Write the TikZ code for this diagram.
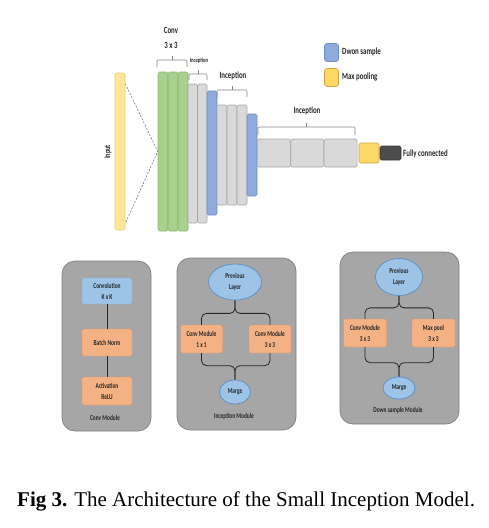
\documentclass[tikz,border=0pt]{standalone}
\usepackage{fontspec}
\usetikzlibrary{shapes.geometric,calc}
\newfontfamily\cf[FakeStretch=0.72]{Carlito}
\newfontfamily\capfont{Liberation Serif}
\definecolor{grn}{HTML}{A9D18E}\definecolor{grnd}{HTML}{8DB673}
\definecolor{gry}{HTML}{D9D9D9}\definecolor{gryd}{HTML}{A6A6A6}
\definecolor{blu}{HTML}{8FAADC}\definecolor{blud}{HTML}{6E8FC9}
\definecolor{inyl}{HTML}{FFE699}\definecolor{inyld}{HTML}{E8CD7A}
\definecolor{mpy}{HTML}{FFD966}\definecolor{mpyd}{HTML}{C9A640}
\definecolor{fcd}{HTML}{4D4D4D}
\definecolor{pnl}{HTML}{A6A6A6}\definecolor{pnld}{HTML}{7F7F7F}
\definecolor{lbl}{HTML}{9DC3E6}\definecolor{lbld}{HTML}{5B8FC4}
\definecolor{org}{HTML}{F4B183}\definecolor{orgd}{HTML}{D9946A}
\definecolor{txt}{HTML}{262626}
\tikzset{
  bar/.style={draw, rounded corners=1.5pt, inner sep=0pt, line width=0.6pt},
  gbar/.style={bar, fill=grn, draw=grnd},
  ybar/.style={bar, fill=gry, draw=gryd},
  bbar/.style={bar, fill=blu, draw=blud},
  lab/.style={font=\cf\bfseries\fontsize{9.5}{11}\selectfont, text=txt, inner sep=0pt},
  slab/.style={font=\cf\bfseries\fontsize{6.5}{8}\selectfont, text=txt, inner sep=0pt},
  brc/.style={draw=gryd!80!black, line width=0.6pt, rounded corners=1pt},
  panel/.style={draw=pnld, fill=pnl, rounded corners=13pt, line width=0.7pt, inner sep=0pt},
  obox/.style={draw=orgd, fill=org, rounded corners=2pt, inner sep=0pt, align=center,
     minimum width=43pt, minimum height=28pt, font=\cf\bfseries\fontsize{7.5}{11}\selectfont, text=txt},
  bbox/.style={obox, draw=lbld!70, fill=lbl},
  ell/.style={ellipse, draw=lbld, fill=lbl, inner sep=0pt, align=center, line width=0.7pt,
     font=\cf\bfseries\fontsize{7.5}{11}\selectfont, text=txt},
  con/.style={draw=txt, line width=0.8pt},
  mlab/.style={font=\cf\bfseries\fontsize{7.5}{9}\selectfont, text=txt, inner sep=0pt}
}
\newcommand\mybrace[4]{%
  \draw[brc] (#1,#3+#4) -- (#1,#3) -- (#2,#3) -- (#2,#3+#4);
  \draw[brc] ({(#1+#2)/2},#3) -- ++(0,-4);}
\begin{document}
\begin{tikzpicture}[x=1pt,y=-1pt]
\useasboundingbox (0,0) rectangle (489,528);
% input
\node[bar, fill=inyl, draw=inyld, minimum width=10pt, minimum height=157pt] (in) at (120,151.5) {};
\node[font=\cf\bfseries\fontsize{8.5}{10}\selectfont, text=txt, rotate=90] (inlab) at (108,152) {Input};
% conv 3x3 bars
\node[gbar, minimum width=10pt, minimum height=159pt] (g1) at (163,151.5) {};
\node[gbar, minimum width=10pt, minimum height=159pt] (g2) at (173,151.5) {};
\node[gbar, minimum width=10pt, minimum height=159pt] (g3) at (183,151.5) {};
\coordinate (inT) at ($(in.north east)+(0,11)$);
\coordinate (inB) at ($(in.south east)+(0,-7)$);
\draw[dashed, line width=0.5pt, draw=gray!80!black, dash pattern=on 2pt off 1.5pt] (inT) -- (g1.west) -- (inB);
% inception 1
\node[ybar, minimum width=9.5pt, minimum height=139pt] (i11) at (192.75,153.5) {};
\node[ybar, minimum width=9.5pt, minimum height=139pt] (i12) at (202.25,153.5) {};
\node[bbar, minimum width=10pt, minimum height=124pt] (d1) at (212,153) {};
% inception 2
\node[ybar, minimum width=10pt, minimum height=100pt] (i21) at (222,155) {};
\node[ybar, minimum width=10pt, minimum height=100pt] (i22) at (232,155) {};
\node[ybar, minimum width=10pt, minimum height=100pt] (i23) at (242,155) {};
\node[bbar, minimum width=10pt, minimum height=82pt] (d2) at (252,155) {};
% inception 3
\node[ybar, minimum width=33pt, minimum height=28pt] (i31) at (273.8,153) {};
\node[ybar, minimum width=33pt, minimum height=28pt] (i32) at (307.2,153) {};
\node[ybar, minimum width=33pt, minimum height=28pt] (i33) at (340.6,153) {};
\node[bar, fill=mpy, draw=mpyd, minimum width=20pt, minimum height=20pt] (mp) at (369,153) {};
\node[bar, fill=fcd, draw=fcd!70!black, minimum width=21pt, minimum height=14pt] (fc) at (390.5,153) {};
\node[lab, anchor=west] (fclab) at (403,154) {Fully connected};
% labels and braces
\node[lab] (convlab) at (171,30) {Conv};
\node[lab] (k33) at (171,45) {3 x 3};
\mybrace{157}{187}{60}{7}
\node[slab] (inc1) at (199,61) {Inception};
\mybrace{189}{207}{74}{6}
\node[lab] (inc2) at (233,76) {Inception};
\mybrace{217}{247}{90}{7}
\node[lab] (inc3) at (307,111) {Inception};
\mybrace{258}{355}{127}{8}
% legend
\node[bar, fill=blu, draw=blud, rounded corners=2.5pt, minimum width=14pt, minimum height=18pt] (lg1) at (331.5,52.5) {};
\node[lab, anchor=west] (lg1t) at (342,52) {Dwon sample};
\node[bar, fill=mpy, draw=mpyd, rounded corners=2.5pt, minimum width=14pt, minimum height=18pt] (lg2) at (331.5,77.5) {};
\node[lab, anchor=west] (lg2t) at (342,77) {Max pooling};
% ---- Conv module panel
\node[panel, minimum width=89pt, minimum height=170pt] (p1) at (106.5,346) {};
\node[bbox, minimum width=50pt, minimum height=26pt] (cv) at (107,291) {Convolution\\K x K};
\node[obox, minimum width=50pt, minimum height=27pt] (bn) at (107,342.5) {Batch Norm};
\node[obox, minimum width=50pt, minimum height=28pt] (act) at (107,391) {Activation\\ReLU};
\draw[con] (cv.south) -- (bn.north);
\draw[con] (bn.south) -- (act.north);
\node[mlab] (p1t) at (105,418) {Conv Module};
% ---- Inception module panel
\node[panel, minimum width=119pt, minimum height=172pt] (p2) at (236.5,344) {};
\node[ell, minimum width=53pt, minimum height=36pt] (pl) at (235,282) {Previous\\Layer};
\node[obox, minimum width=42pt] (c1) at (201.5,339) {Conv Module\\1 x 1};
\node[obox, minimum width=42pt] (c2) at (270,339) {Conv Module\\3 x 3};
\node[ell, minimum width=31pt, minimum height=24pt] (mg) at (235,392) {Marge};
\coordinate (j1) at ($(pl.south)+(0,13)$);
\coordinate (j2) at ($(mg.north)+(0,-14)$);
\draw[con, rounded corners=5pt] (c1.north) |- (j1) -- (pl.south);
\draw[con, rounded corners=5pt] (c2.north) |- (j1) -- (pl.south);
\draw[con, rounded corners=5pt] (c1.south) |- (j2) -- (mg.north);
\draw[con, rounded corners=5pt] (c2.south) |- (j2) -- (mg.north);
\node[mlab] (p2t) at (234,416) {Inception Module};
% ---- Down sample module panel
\node[panel, minimum width=119pt, minimum height=172pt] (p3) at (399.5,338) {};
\node[ell, minimum width=47pt, minimum height=37pt] (pl2) at (399,277) {Previous\\Layer};
\node[obox] (c3) at (365,333) {Conv Module\\3 x 3};
\node[obox] (mx) at (433.5,333) {Max pool\\3 x 3};
\node[ell, minimum width=32pt, minimum height=22pt] (mg2) at (399,388) {Marge};
\coordinate (j3) at ($(pl2.south)+(0,12)$);
\coordinate (j4) at ($(mg2.north)+(0,-14)$);
\draw[con, rounded corners=5pt] (c3.north) |- (j3) -- (pl2.south);
\draw[con, rounded corners=5pt] (mx.north) |- (j3) -- (pl2.south);
\draw[con, rounded corners=5pt] (c3.south) |- (j4) -- (mg2.north);
\draw[con, rounded corners=5pt] (mx.south) |- (j4) -- (mg2.north);
\node[mlab] (p3t) at (398,410) {Down sample Module};
% caption
\node[anchor=base west, inner sep=0pt, font=\capfont\fontsize{21}{25}\selectfont] (cap) at (17,506) {\textbf{Fig 3.} The Architecture of the Small Inception Model.};
\end{tikzpicture}
\end{document}
